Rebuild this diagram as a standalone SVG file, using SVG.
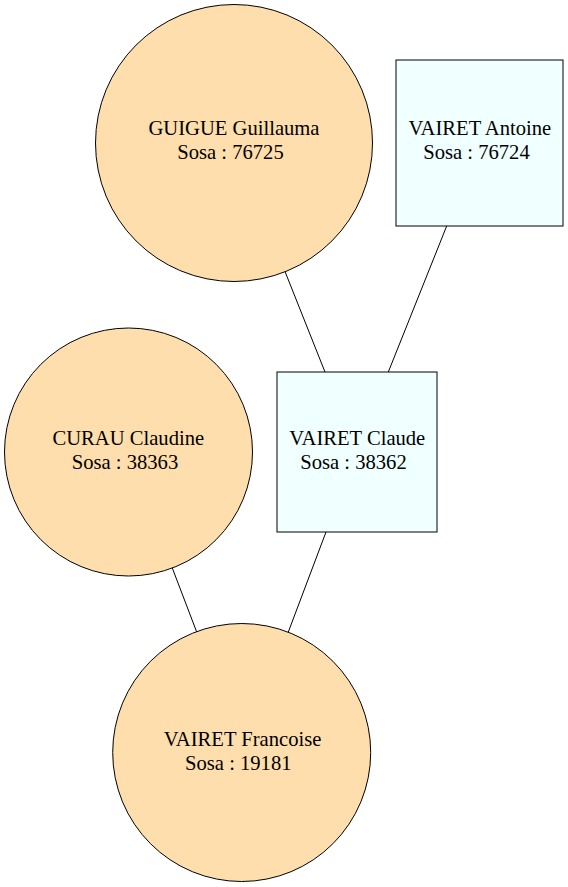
<svg xmlns="http://www.w3.org/2000/svg" width="568" height="887" viewBox="0 0 568 887">
<style>
.f{fill:#ffdead;stroke:#000;stroke-width:1}
.m{fill:#f0ffff;stroke:#000;stroke-width:1}
.e{stroke:#000;stroke-width:1;fill:none}
text{font-family:"Liberation Serif","Times New Roman",serif;font-size:20.6px;fill:#000;text-anchor:middle}
</style>
<rect width="568" height="887" fill="#fff"/>
<g id="edges">
<line class="e" x1="285" y1="271.5" x2="325" y2="372"/>
<line class="e" x1="446.7" y1="226" x2="388.3" y2="372"/>
<line class="e" x1="172.3" y1="568" x2="196.7" y2="632"/>
<line class="e" x1="326" y1="532" x2="288.3" y2="632"/>
</g>
<g id="guigue">
<circle class="f" cx="234" cy="143" r="138.5"/>
<text x="234" y="135">GUIGUE Guillauma</text>
<text x="230.5" y="159">Sosa : 76725</text>
</g>
<g id="antoine">
<rect class="m" x="396" y="60" width="167" height="166"/>
<text x="479.8" y="135">VAIRET Antoine</text>
<text x="476.5" y="159">Sosa : 76724</text>
</g>
<g id="curau">
<circle class="f" cx="128.5" cy="452" r="124"/>
<text x="128.3" y="444.5">CURAU Claudine</text>
<text x="125" y="468.5">Sosa : 38363</text>
</g>
<g id="claude">
<rect class="m" x="277" y="372" width="160" height="160"/>
<text x="357.3" y="444.5">VAIRET Claude</text>
<text x="353.5" y="468.5">Sosa : 38362</text>
</g>
<g id="francoise">
<circle class="f" cx="241.7" cy="752.5" r="129"/>
<text x="242.5" y="745.5">VAIRET Francoise</text>
<text x="238.3" y="769.5">Sosa : 19181</text>
</g>
</svg>
